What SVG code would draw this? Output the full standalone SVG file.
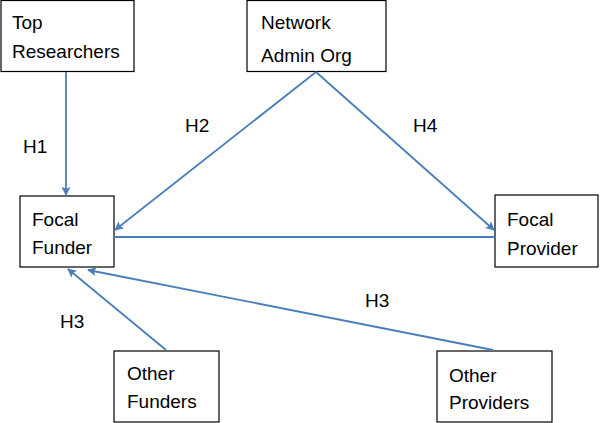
<svg xmlns="http://www.w3.org/2000/svg" width="600" height="423" viewBox="0 0 600 423">
<style>
.box{fill:#fff;stroke:#000;stroke-width:1.2}
.t{font-family:"Liberation Sans",Arial,sans-serif;font-size:19px;fill:#000}
.c{stroke:#4a7ebb;stroke-width:1.8;fill:none}
</style>
<defs>
<marker id="ah" viewBox="0 0 10 10" refX="9" refY="5" markerWidth="10" markerHeight="9" markerUnits="userSpaceOnUse" orient="auto">
<path d="M0,0 L10,5 L0,10 L2,5 z" fill="#4a7ebb"/>
</marker>
</defs>
<rect width="600" height="423" fill="#fff"/>
<g id="top-researchers"><rect class="box" x="1" y="0.5" width="133" height="71"/><text class="t" x="12" y="29">Top</text><text class="t" x="12" y="58">Researchers</text></g>
<g id="network-admin-org"><rect class="box" x="247" y="0.5" width="139" height="71"/><text class="t" x="261" y="29">Network</text><text class="t" x="261" y="62">Admin Org</text></g>
<g id="focal-funder"><rect class="box" x="20" y="196" width="94" height="71"/><text class="t" x="32" y="226">Focal</text><text class="t" x="32" y="254">Funder</text></g>
<g id="focal-provider"><rect class="box" x="495" y="195" width="103" height="72"/><text class="t" x="507" y="226">Focal</text><text class="t" x="507" y="255">Provider</text></g>
<g id="other-funders"><rect class="box" x="114" y="351" width="105" height="71"/><text class="t" x="127" y="380">Other</text><text class="t" x="127" y="408">Funders</text></g>
<g id="other-providers"><rect class="box" x="437" y="351" width="115" height="71"/><text class="t" x="449" y="382">Other</text><text class="t" x="449" y="409">Providers</text></g>
<g id="connectors">
<line class="c" x1="66" y1="72" x2="66" y2="195" marker-end="url(#ah)"/>
<line class="c" x1="316" y1="72" x2="115" y2="230" marker-end="url(#ah)"/>
<line class="c" x1="316" y1="72" x2="494" y2="230" marker-end="url(#ah)"/>
<line class="c" x1="114" y1="237" x2="495" y2="237"/>
<line class="c" x1="166" y1="350" x2="68" y2="269" marker-end="url(#ah)"/>
<line class="c" x1="493" y1="350" x2="88" y2="270" marker-end="url(#ah)"/>
</g>
<g id="labels">
<text class="t" x="23" y="153">H1</text>
<text class="t" x="185" y="132">H2</text>
<text class="t" x="413" y="132">H4</text>
<text class="t" x="365" y="307">H3</text>
<text class="t" x="60" y="328">H3</text>
</g>
</svg>
